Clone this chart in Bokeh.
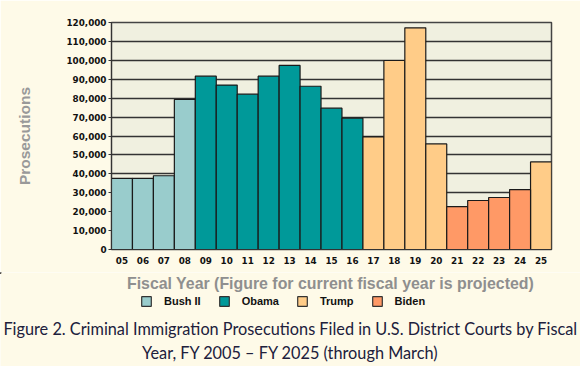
from bokeh.plotting import figure
from bokeh.models import (ColumnDataSource, FactorRange, Range1d, NumeralTickFormatter,
                          SingleIntervalTicker, Legend, LegendItem, Label)
from bokeh.embed import file_html
from bokeh.resources import INLINE

years = ["05", "06", "07", "08", "09", "10", "11", "12", "13", "14", "15",
         "16", "17", "18", "19", "20", "21", "22", "23", "24", "25"]
prosecutions = [37600, 37600, 39000, 79300, 91600, 86900, 82100, 91600, 97300, 86300, 74700,
                69400, 59500, 99900, 117200, 55800, 22700, 25900, 27500, 31700, 46300]
admins = ["Bush II"] * 4 + ["Obama"] * 8 + ["Trump"] * 4 + ["Biden"] * 4 + ["Trump"]
admin_order = ["Bush II", "Obama", "Trump", "Biden"]
admin_colors = {"Bush II": "#99CCCC", "Obama": "#009999", "Trump": "#FFCC88", "Biden": "#FF9966"}

y_title = "Prosecutions"
x_title = "Fiscal Year (Figure for current fiscal year is projected)"
caption1 = "Figure 2. Criminal Immigration Prosecutions Filed in U.S. District Courts by Fiscal"
caption2 = "Year, FY 2005 \u2013 FY 2025 (through March)"

PAGE_BG = "#FEFAE8"
W = 580
H1 = 272
H2 = 94

# ---------------- main chart ----------------
p = figure(width=W, height=H1, output_backend="svg", toolbar_location=None,
           x_range=FactorRange(*years, range_padding=0), y_range=Range1d(0, 120000),
           min_border_left=111, min_border_right=29, min_border_top=22, min_border_bottom=23)
p.background_fill_color = "#F0F0E0"
p.border_fill_color = PAGE_BG
p.outline_line_color = "#444444"
p.outline_line_width = 1.5

for a in admin_order:
    xs = [y for y, ad in zip(years, admins) if ad == a]
    vs = [v for v, ad in zip(prosecutions, admins) if ad == a]
    src = ColumnDataSource(dict(x=xs, top=vs))
    p.vbar(x="x", top="top", width=1.0, source=src,
           fill_color=admin_colors[a], line_color="#1a1a1a", line_width=1.2)

p.xgrid.grid_line_color = None
p.ygrid.grid_line_color = "#333333"
p.ygrid.grid_line_width = 1.6

p.yaxis.ticker = SingleIntervalTicker(interval=10000)
p.yaxis.formatter = NumeralTickFormatter(format="0,0")
p.yaxis.minor_tick_line_color = None
p.yaxis.major_tick_out = 3
p.yaxis.major_tick_in = 0
p.yaxis.major_label_standoff = 1
p.yaxis.axis_line_color = "#333333"
p.yaxis.major_tick_line_color = "#333333"
p.yaxis.axis_label = y_title
p.yaxis.axis_label_standoff = 30
p.yaxis.axis_label_text_font = "Liberation Sans"
p.yaxis.axis_label_text_font_style = "bold"
p.yaxis.axis_label_text_font_size = "15.5px"
p.yaxis.axis_label_text_color = "#999999"

p.xaxis.major_tick_line_color = None
p.xaxis.major_tick_out = 0
p.xaxis.major_tick_in = 0
p.xaxis.major_label_standoff = 7
p.xaxis.axis_line_color = "#333333"

for ax in (p.xaxis, p.yaxis):
    ax.major_label_text_font = "DejaVu Sans"
    ax.major_label_text_font_style = "bold"
    ax.major_label_text_font_size = "8.8px"
    ax.major_label_text_color = "#111111"

# ---------------- legend + titles strip ----------------
q = figure(width=W, height=H2, output_backend="svg", toolbar_location=None,
           x_range=Range1d(0, W), y_range=Range1d(H2, 0),
           x_axis_type=None, y_axis_type=None,
           min_border_left=0, min_border_right=0, min_border_top=0, min_border_bottom=0)
q.background_fill_color = PAGE_BG
q.border_fill_color = PAGE_BG
q.outline_line_color = None
q.grid.grid_line_color = None

items = []
for a in admin_order:
    r = q.vbar(x=[-1000], top=[1], bottom=[0], width=1, fill_color=admin_colors[a],
               line_color="#333333", line_width=1.2)
    items.append(LegendItem(label=a, renderers=[r]))

legend = Legend(items=items, orientation="horizontal", location=(140, 59),
                padding=0, margin=0, spacing=17, label_standoff=12,
                glyph_width=12, glyph_height=12, label_height=12,
                border_line_color=None, background_fill_alpha=0,
                label_text_font="Liberation Sans", label_text_font_style="bold",
                label_text_font_size="11px", label_text_color="#111111")
q.add_layout(legend, "center")

q.add_layout(Label(x=330, y=283 - H1, text=x_title, text_align="center", text_baseline="middle",
                   text_font="Liberation Sans", text_font_style="bold",
                   text_font_size="15.9px", text_color="#8f8f8f"))
q.add_layout(Label(x=290, y=328 - H1, text=caption1, text_align="center", text_baseline="middle",
                   text_font="Lato", text_font_size="16.3px", text_color="#20203c"))
q.add_layout(Label(x=290, y=352 - H1, text=caption2, text_align="center", text_baseline="middle",
                   text_font="Lato", text_font_size="16.3px", text_color="#20203c"))

html = file_html([p, q], INLINE)
open("out.html", "w").write(html)
